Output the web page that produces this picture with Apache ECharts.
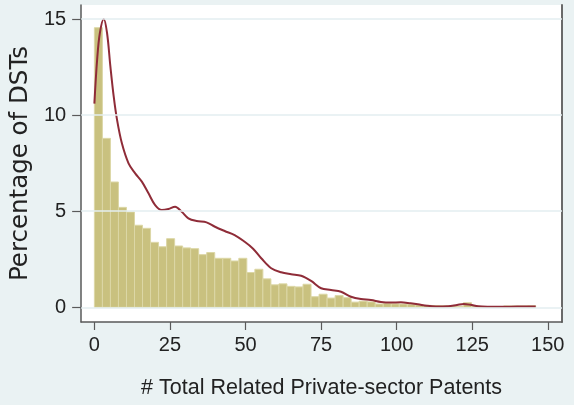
<!DOCTYPE html>
<html>
<head>
<meta charset="utf-8">
<script src="https://cdn.jsdelivr.net/npm/echarts@6/dist/echarts.min.js"></script>
<style>
html,body{margin:0;padding:0;background:#eaf2f3;}
#c{width:574px;height:405px;}
</style>
</head>
<body>
<div id="c"></div>
<script>
// Histogram: 55 bins from 0 to 146
const binStart = 0;
const binEnd = 146;
const binPercent = [
  14.55, 8.79, 6.52, 5.20, 4.96, 4.27, 4.11, 3.38, 3.15, 3.57,
  3.19, 3.09, 3.05, 2.74, 2.85, 2.55, 2.55, 2.41, 2.55, 1.81,
  1.98, 1.48, 1.17, 1.22, 1.09, 1.06, 1.20, 0.55, 0.68, 0.48,
  0.61, 0.50, 0.27, 0.32, 0.28, 0.17, 0.20, 0.18, 0.17, 0.15,
  0.12, 0.10, 0.09, 0.08, 0.06, 0.05, 0.24, 0.06, 0.03, 0.02,
  0.03, 0.07, 0.07, 0.07, 0.08
];
// Kernel density (scaled to percent)
const densityX = [0, 0.9, 1.8, 3.1, 4.2, 5.3, 6.4, 7.5, 9.1, 11.3, 13.5, 15.7, 17.9, 20.1, 22.3, 24.5, 26.7, 28.9, 31.1, 33.8, 37.1, 39.9, 43.1, 46.4, 49.7, 52.5, 55.2, 58.5, 61.8, 65.1, 68.4, 71.7, 75, 78.3, 81.6, 84.9, 88.2, 91.5, 94.8, 98.1, 101.4, 104.6, 107, 110, 113, 117, 120, 122.2, 124.4, 127, 130, 135, 140, 146];
const densityY = [10.6, 12.87, 14.26, 15.0, 14.26, 12.52, 10.96, 9.75, 8.53, 7.49, 6.97, 6.54, 5.93, 5.32, 5.06, 5.11, 5.23, 4.97, 4.63, 4.49, 4.42, 4.19, 3.97, 3.76, 3.41, 3.05, 2.55, 2.03, 1.82, 1.72, 1.64, 1.37, 0.99, 0.90, 0.81, 0.55, 0.43, 0.38, 0.28, 0.25, 0.26, 0.21, 0.16, 0.08, 0.04, 0.05, 0.12, 0.17, 0.13, 0.05, 0.03, 0.03, 0.04, 0.04];
const xTicks = [0, 25, 50, 75, 100, 125, 150];
const yTicks = [0, 5, 10, 15];
const xTitle = '# Total Related Private-sector Patents';
const yTitle = 'Percentage of DSTs';

const binW = (binEnd - binStart) / binPercent.length;
const barData = binPercent.map((v, i) => [binStart + i * binW, binStart + (i + 1) * binW, v]);
const lineData = densityX.map((x, i) => [x, densityY[i]]);

const FONT = 'Liberation Sans, Arial, sans-serif';
const AXIS_COLOR = '#5a5a5a';
const TEXT_COLOR = '#222';

const chart = echarts.init(document.getElementById('c'), null, {renderer: 'canvas'});
chart.setOption({
  backgroundColor: '#eaf2f3',
  animation: false,
  grid: {left: 79, right: 12, top: 5, bottom: 83, show: true, backgroundColor: '#ffffff', borderWidth: 0},
  xAxis: {
    type: 'value', min: -4.38, max: 154.7,
    axisLine: {show: true, onZero: false, lineStyle: {color: AXIS_COLOR, width: 1.5}},
    axisTick: {show: true, customValues: xTicks, length: 8, lineStyle: {color: AXIS_COLOR, width: 1.2}},
    axisLabel: {customValues: xTicks, fontSize: 20, fontFamily: FONT, color: TEXT_COLOR, margin: 13},
    splitLine: {show: false},
    name: xTitle, nameLocation: 'middle', nameGap: 55,
    nameTextStyle: {fontSize: 21.5, fontFamily: FONT, color: TEXT_COLOR}
  },
  yAxis: [{
    type: 'value', min: -0.765, max: 15.73,
    axisLine: {show: true, onZero: false, lineStyle: {color: AXIS_COLOR, width: 1.5}},
    axisTick: {show: true, customValues: yTicks, length: 9, lineStyle: {color: AXIS_COLOR, width: 1.2}},
    axisLabel: {customValues: yTicks, fontSize: 20, fontFamily: FONT, color: TEXT_COLOR, margin: 15},
    splitLine: {show: false},
    name: yTitle, nameLocation: 'middle', nameGap: 46, nameRotate: 90,
    nameTextStyle: {fontSize: 24.5, fontFamily: 'DejaVu Sans, sans-serif', color: TEXT_COLOR}
  }, {
    type: 'value', position: 'right', min: -0.765, max: 15.73,
    axisLine: {show: true, onZero: false, lineStyle: {color: AXIS_COLOR, width: 1.8}},
    axisTick: {show: false}, axisLabel: {show: false}, splitLine: {show: false}
  }],
  series: [{
    type: 'line', data: [], z: 1, silent: true,
    markLine: {
      silent: true, symbol: ['none', 'none'], animation: false,
      label: {show: false},
      lineStyle: {color: '#e3eef0', width: 1.5, type: 'solid'},
      data: yTicks.map(v => ({yAxis: v}))
    }
  }, {
    type: 'custom', z: 2,
    renderItem: function (params, api) {
      const p0 = api.coord([api.value(0), api.value(2)]);
      const p1 = api.coord([api.value(1), 0]);
      return {
        type: 'rect',
        shape: {x: p0[0], y: p0[1], width: p1[0] - p0[0], height: p1[1] - p0[1]},
        style: {fill: '#c9c17f', stroke: '#dcd7a6', lineWidth: 1}
      };
    },
    encode: {x: [0, 1], y: 2},
    data: barData
  }, {
    type: 'line', z: 3, data: lineData, smooth: 0.35, showSymbol: false, symbol: 'none',
    lineStyle: {color: '#8f2c38', width: 2}
  }]
});
</script>
</body>
</html>
